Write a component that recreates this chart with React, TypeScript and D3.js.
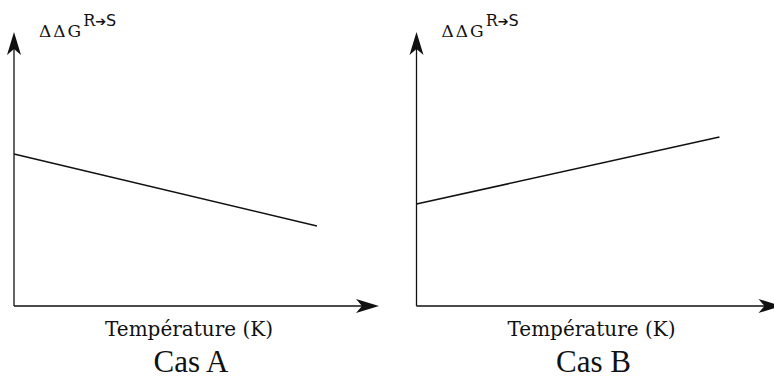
import React from 'react';
import * as d3 from 'd3';

const width = 774;
const height = 380;

// two schematic panels, same axes
const panelNames = ['Cas A', 'Cas B'];
const panelLeft = [14, 416.5];
const axisDomain = [0, 100];
const lineTemps = [0, 83];
const casA = [55.5, 29.2];
const casB = [37.2, 61.7];
const series = [casA, casB];
const xLabel = 'Température (K)';

const axisLen = 365;
const top = 32;
const bottom = 306;

const arrowPath = 'M0,0 L-23,-7 L-17,0 L-23,7 Z';

function Panel({ idx }: { idx: number }) {
  const x0 = panelLeft[idx];
  const xScale = d3.scaleLinear().domain(axisDomain).range([x0, x0 + axisLen]);
  const yScale = d3.scaleLinear().domain(axisDomain).range([bottom, top]);
  const line = d3
    .line<number>()
    .x((d, i) => xScale(lineTemps[i]))
    .y(d => yScale(d));
  const tipX = xScale(axisDomain[1]);
  const tipY = yScale(axisDomain[1]);
  return (
    <g>
      <line x1={x0} y1={bottom} x2={tipX - 10} y2={bottom} stroke="#111" strokeWidth={1.3} />
      <line x1={x0} y1={bottom} x2={x0} y2={tipY + 10} stroke="#111" strokeWidth={1.3} />
      <path d={arrowPath} transform={`translate(${tipX},${bottom})`} fill="#111" />
      <path d={arrowPath} transform={`translate(${x0},${tipY}) rotate(-90)`} fill="#111" />
      <path d={line(series[idx]) || ''} fill="none" stroke="#111" strokeWidth={1.6} />
      <text x={x0 + 25} y={37} fontFamily="DejaVu Serif" fontSize={17} letterSpacing={2} fill="#111">
        ΔΔG
        <tspan dy={-11} fontSize={16} letterSpacing={0}>R</tspan>
        <tspan fontSize={13} letterSpacing={0} fontFamily="DejaVu Sans">➔</tspan>
        <tspan fontSize={16} letterSpacing={0} fontFamily="DejaVu Sans">S</tspan>
      </text>
      <text x={x0 + 175} y={335.5} textAnchor="middle" fontFamily="DejaVu Serif" fontSize={20} fill="#111">
        {xLabel}
      </text>
      <text
        x={x0 + 177}
        y={372}
        textAnchor="middle"
        style={{ fontFamily: "'Liberation Serif', 'DejaVu Serif', serif", fontSize: 31 }}
        fill="#111"
      >
        {panelNames[idx]}
      </text>
    </g>
  );
}

export default function App() {
  return (
    <svg
      width={width}
      height={height}
      style={{ position: 'absolute', left: 0, top: 0, background: '#fff' }}
    >
      {panelNames.map((_, i) => (
        <Panel key={i} idx={i} />
      ))}
    </svg>
  );
}
